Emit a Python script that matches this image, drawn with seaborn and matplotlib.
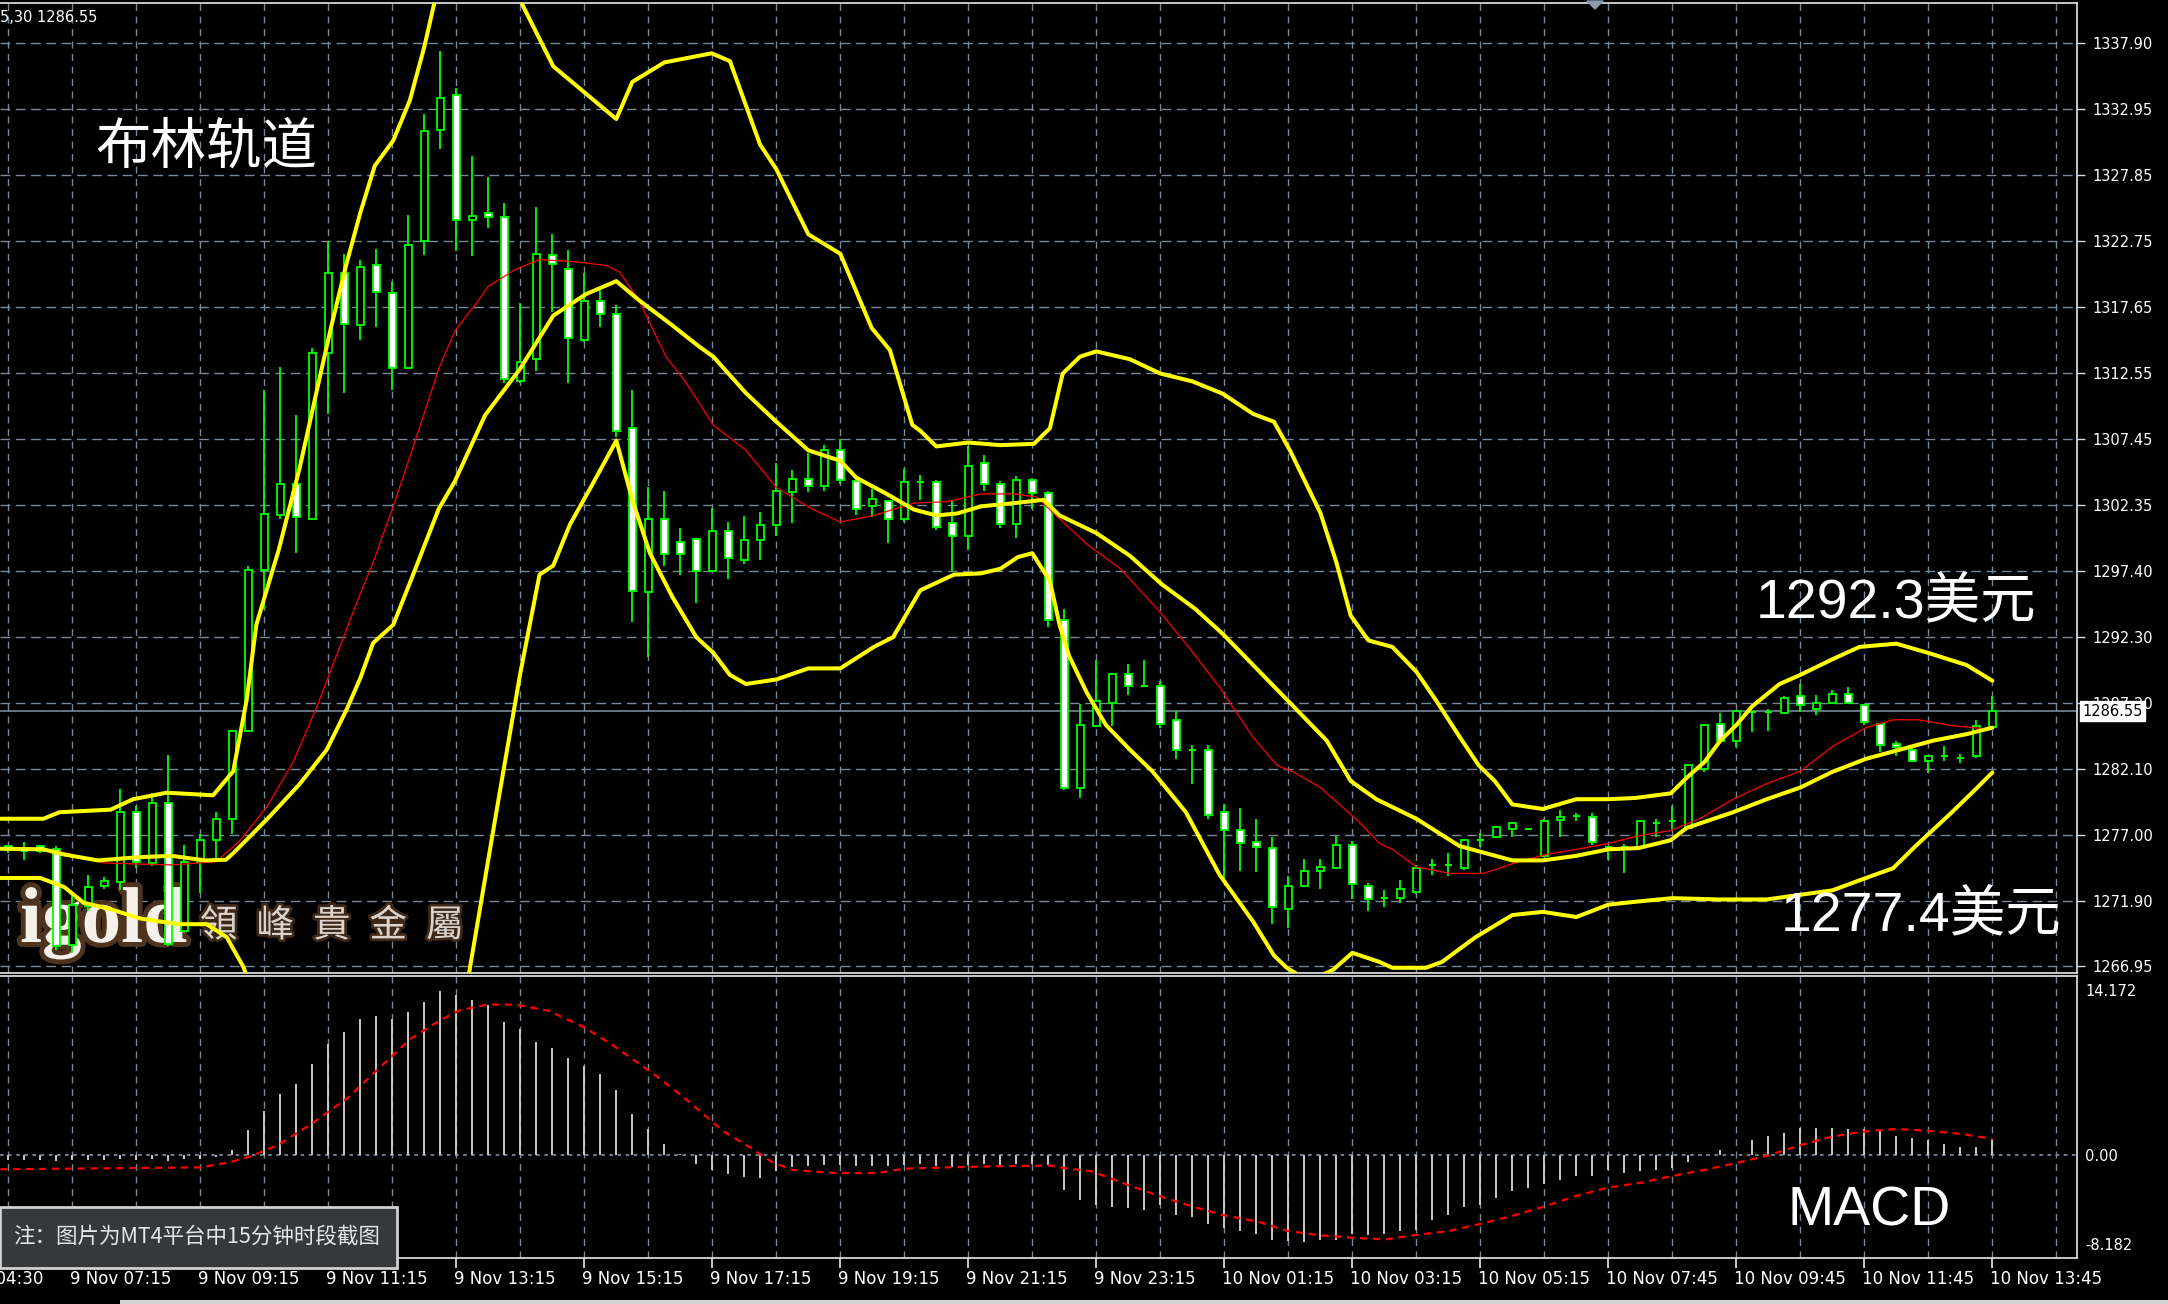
import numpy as np
import pandas as pd
import matplotlib
matplotlib.use("Agg")
import matplotlib.pyplot as plt
import seaborn as sns
from matplotlib.patches import Rectangle, Polygon
import matplotlib.patheffects as pe

# ---------------- data ----------------
opens = [1276.2,1275.8,1276.2,1276.0,1268.6,1271.6,1273.1,1273.45,1278.8,1274.9,
1279.5,1269.7,1275.0,1276.65,1278.3,1285.05,1297.4,1301.6,1304.0,1301.35,
1314.1,1320.2,1316.2,1320.8,1318.7,1312.95,1322.7,1331.2,1333.9,1324.3,
1324.8,1324.5,1311.9,1313.6,1321.6,1320.5,1315.1,1318.1,1317.05,1308.3,
1295.7,1301.35,1299.55,1299.8,1297.3,1300.4,1298.15,1299.7,1300.9,1303.4,
1304.4,1303.85,1306.6,1304.25,1302.3,1302.7,1301.35,1304.2,1304.2,1301.0,
1300.0,1305.6,1304.0,1300.95,1304.3,1303.3,1293.55,1280.65,1285.4,1287.2,
1289.4,1288.5,1288.5,1285.85,1283.6,1283.6,1278.8,1277.4,1276.5,1276.05,
1271.4,1273.1,1274.3,1274.5,1276.3,1273.15,1272.2,1272.2,1272.7,1274.75,
1274.75,1274.5,1276.65,1276.9,1277.5,1277.5,1275.45,1278.2,1278.5,1278.45,
1276.1,1276.1,1276.1,1277.95,1278.1,1277.6,1282.1,1285.6,1284.3,1286.5,
1286.5,1286.45,1287.7,1286.7,1287.2,1287.9,1287.05,1285.6,1284.05,1283.6,
1282.75,1283.1,1282.95,1283.1,1285.35]

highs = [1276.3,1276.5,1276.3,1276.2,1272.5,1274.0,1273.8,1280.6,1279.3,1280.3,
1283.2,1276.3,1277.1,1278.8,1285.1,1297.75,1311.2,1313.0,1309.3,1314.5,
1322.7,1321.7,1321.2,1322.1,1319.5,1324.7,1332.4,1337.3,1334.45,1329.2,
1327.6,1325.6,1317.9,1325.3,1323.2,1322.0,1320.2,1319.0,1317.8,1311.2,
1303.75,1303.5,1300.6,1299.8,1302.2,1301.1,1301.55,1301.85,1305.65,1305.1,
1306.4,1307.0,1307.45,1304.4,1303.6,1302.7,1305.15,1304.7,1304.35,1302.8,
1306.9,1306.25,1304.25,1304.6,1304.45,1303.5,1294.4,1287.1,1290.5,1289.4,
1290.2,1290.5,1288.9,1286.6,1284.0,1284.0,1279.4,1279.1,1278.3,1276.9,
1273.9,1275.2,1275.2,1277.0,1276.6,1273.4,1272.8,1273.6,1274.75,1275.2,
1275.7,1276.65,1277.2,1277.7,1278.0,1277.5,1278.3,1279.0,1278.75,1278.75,
1276.1,1276.35,1278.1,1278.3,1279.3,1282.4,1285.5,1286.45,1286.6,1286.5,
1286.75,1287.75,1288.65,1287.8,1288.2,1288.4,1287.05,1285.6,1284.3,1283.85,
1283.1,1283.85,1283.3,1285.9,1287.7]

lows = [1275.7,1275.1,1275.7,1268.2,1268.0,1271.2,1272.9,1272.8,1274.5,1274.7,
1268.5,1269.5,1272.6,1275.2,1277.1,1285.0,1294.4,1301.35,1298.7,1301.35,
1309.4,1311.0,1315.1,1316.1,1311.2,1312.9,1321.6,1329.75,1321.9,1321.5,
1323.65,1311.8,1311.8,1312.7,1317.2,1311.8,1314.9,1316.1,1307.6,1293.45,
1290.7,1297.75,1297.05,1294.9,1297.3,1296.7,1297.85,1298.15,1300.0,1301.05,
1303.4,1303.5,1304.0,1301.6,1301.45,1299.5,1301.1,1302.8,1300.45,1297.35,
1298.95,1303.5,1300.6,1299.9,1302.1,1293.0,1280.5,1279.9,1285.4,1285.4,
1287.8,1288.5,1285.3,1282.9,1281.0,1278.3,1273.4,1274.3,1274.2,1270.2,
1269.9,1273.1,1272.9,1274.5,1272.1,1271.25,1271.5,1271.85,1272.5,1274.0,
1273.9,1274.4,1276.1,1276.9,1276.9,1277.5,1275.35,1276.9,1278.1,1276.3,
1275.1,1274.15,1275.95,1276.9,1277.4,1277.6,1281.9,1284.1,1283.8,1284.95,
1285.05,1286.45,1286.5,1286.25,1287.1,1287.1,1285.5,1283.4,1283.1,1282.65,
1281.8,1282.75,1282.6,1283.0,1285.35]

closes = [1275.9,1275.8,1275.8,1268.5,1271.7,1273.05,1273.5,1278.8,1275.0,1279.5,
1268.7,1275.0,1276.65,1278.3,1285.05,1297.4,1301.7,1304.0,1301.45,1314.1,
1320.2,1316.3,1320.7,1318.75,1312.9,1322.35,1331.1,1333.7,1324.3,1324.6,
1324.5,1312.1,1313.4,1321.7,1320.9,1315.2,1318.1,1317.1,1308.1,1295.8,
1301.35,1298.6,1298.6,1297.3,1300.4,1298.3,1299.7,1300.9,1303.5,1304.4,
1303.85,1306.6,1304.3,1302.1,1302.85,1301.35,1304.2,1304.2,1300.7,1300.0,
1305.4,1304.0,1300.95,1304.3,1303.3,1293.55,1280.65,1285.5,1287.35,1289.4,
1288.5,1288.5,1285.6,1283.6,1283.6,1278.55,1277.4,1276.4,1276.1,1271.5,
1273.15,1274.25,1274.6,1276.3,1273.3,1272.1,1272.2,1272.9,1274.5,1274.75,
1274.75,1276.65,1276.65,1277.7,1278.0,1277.5,1278.1,1278.4,1278.5,1276.5,
1276.1,1276.1,1278.1,1277.95,1278.1,1282.4,1285.5,1284.3,1286.6,1286.5,
1286.5,1287.6,1287.0,1287.2,1287.9,1287.2,1285.75,1283.95,1283.8,1282.75,
1283.1,1283.1,1282.95,1285.4,1286.55]

# Bollinger upper band (bar index, price)
ub_x = [-0.5,2.2,3.2,6.4,7.8,9.9,12.8,14.06,14.9,15.5,16.9,18.2,19.5,20.2,21.15,22.0,22.9,24.06,25.1,26.0,
        26.67,28.0,29.5,31.0,31.98,34.06,38.0,39.0,41.0,43.96,45.1,46.98,48.0,50.0,52.0,53.96,55.1,56.5,57.0,58.0,
        60.0,62.0,64.1,65.1,65.9,66.98,68.0,70.1,72.0,74.0,75.9,77.8,79.1,80.1,82.0,83.0,83.9,85.0,86.5,88.0,
        89.2,90.7,91.9,92.9,94.0,95.9,98.0,100.0,101.7,103.9,104.9,106.0,107.0,108.0,109.0,110.7,112.0,114.0,115.7,118.0,
        120.1,122.4,124.0]
ub_y = [1278.3,1278.3,1278.8,1279.0,1279.8,1280.3,1280.1,1281.95,1287.45,1293.2,1298.95,1305.2,1312.4,1316.2,1321.0,1324.85,1328.45,1330.4,1333.5,1337.6,
        1341.2,1345.0,1346.5,1344.5,1341.2,1336.1,1332.05,1334.9,1336.4,1337.1,1336.5,1330.1,1328.2,1323.2,1321.7,1316.0,1314.3,1308.55,1308.1,1306.9,
        1307.2,1307.0,1307.1,1308.3,1312.5,1313.8,1314.2,1313.6,1312.5,1311.9,1310.95,1309.4,1308.8,1306.6,1301.8,1298.0,1293.9,1292.0,1291.5,1289.6,
        1287.45,1284.6,1282.4,1281.2,1279.4,1279.05,1279.8,1279.8,1279.9,1280.25,1281.45,1282.65,1284.3,1285.5,1286.95,1288.65,1289.35,1290.55,1291.5,1291.75,
        1291.0,1290.1,1288.9]

# Bollinger middle band
mb_x = [-0.5,2.2,3.5,5.6,8.2,10.2,12.3,13.6,14.1,16.2,18.2,19.9,21.15,22.0,22.8,24.06,25.3,26.9,27.9,29.8,
        31.98,34.06,36.1,38.0,39.4,41.5,43.2,44.06,46.1,48.0,50.0,52.0,53.0,54.9,56.6,58.0,59.3,60.8,62.9,64.7,
        65.7,68.0,70.1,72.1,74.2,75.9,78.4,80.5,82.4,83.9,85.5,88.0,90.7,92.2,94.0,95.9,98.0,100.0,101.9,103.9,
        104.9,107.8,109.9,112.0,114.0,116.1,118.2,120.3,122.4,124.0]
mb_y = [1276.0,1275.95,1275.55,1275.1,1275.35,1275.45,1275.1,1275.15,1275.7,1278.3,1280.95,1283.6,1286.7,1289.1,1291.8,1293.2,1297.05,1302.1,1304.2,1309.3,
        1312.85,1316.95,1318.6,1319.6,1318.15,1316.2,1314.55,1313.8,1311.0,1308.8,1306.6,1305.8,1304.5,1303.25,1302.05,1301.6,1301.75,1302.3,1302.55,1302.8,
        1301.6,1300.25,1298.5,1296.3,1294.4,1292.5,1289.35,1286.7,1284.3,1281.2,1279.8,1278.3,1276.2,1275.7,1275.1,1275.1,1275.45,1275.95,1276.05,1276.65,
        1277.6,1278.8,1279.8,1280.7,1281.9,1282.9,1283.6,1284.3,1284.8,1285.3]

# Bollinger lower band
lb_x = [-0.5,2.0,3.5,4.7,6.4,8.2,9.5,10.7,12.4,13.65,14.7,16.0,18.0,20.0,22.0,24.0,26.0,27.5,28.86,30.5,
        31.98,33.2,34.06,35.1,36.4,38.0,39.0,40.1,41.5,43.0,44.06,45.1,46.1,48.0,50.0,52.0,54.1,55.3,57.0,59.1,
        60.8,62.0,63.1,64.0,65.1,65.7,66.3,67.4,68.6,70.1,71.5,73.6,75.7,77.8,79.1,79.9,81.3,82.8,84.0,85.7,
        86.5,88.6,89.6,91.7,94.0,95.9,98.0,100.0,101.9,104.0,106.9,109.9,114.0,116.1,117.8,119.2,121.3,122.9,124.0]
lb_y = [1273.75,1273.75,1273.05,1271.85,1271.35,1270.65,1270.4,1270.2,1270.2,1269.2,1266.9,1262.5,1257.0,1253.0,1250.5,1250.0,1252.0,1257.0,1266.9,1278.8,
        1289.35,1297.05,1297.75,1300.9,1303.75,1307.35,1302.8,1298.7,1295.35,1292.25,1291.05,1289.35,1288.65,1289.0,1289.85,1289.85,1291.5,1292.25,1295.85,1297.05,
        1297.15,1297.5,1298.4,1298.7,1296.55,1293.2,1290.8,1288.0,1285.5,1283.6,1281.95,1278.8,1274.0,1270.4,1267.8,1266.85,1265.8,1266.7,1268.0,1267.3,
        1266.85,1266.85,1267.3,1269.2,1270.9,1271.15,1270.75,1271.7,1271.95,1272.2,1272.1,1272.1,1272.8,1273.75,1274.5,1276.2,1278.6,1280.5,1281.85]

# thin red moving average
ma_x = [-0.5,2.2,3.5,6.0,10.2,13.0,14.5,16.2,17.8,19.3,20.5,22.0,22.8,24.06,25.5,26.9,27.9,29.4,30.0,31.7,
        33.2,35.3,37.4,38.2,39.4,41.1,42.3,44.06,46.1,48.0,50.3,52.0,54.1,56.6,58.6,60.8,62.9,64.3,65.3,67.4,
        69.5,72.0,73.6,75.7,77.8,79.3,80.3,82.0,84.3,85.7,86.5,88.0,90.1,92.2,94.0,96.1,98.0,100.0,101.9,103.9,
        105.7,107.8,109.9,112.0,114.0,116.1,117.8,119.4,121.5,123.6,124.0]
ma_y = [1276.0,1275.95,1275.7,1274.9,1274.75,1275.0,1276.65,1279.3,1282.65,1286.95,1290.8,1295.6,1298.0,1302.3,1307.6,1312.85,1315.75,1318.15,1319.2,1320.5,
        1321.25,1321.1,1320.8,1320.3,1318.15,1313.8,1311.9,1308.55,1306.6,1303.75,1302.05,1301.1,1301.6,1302.55,1302.65,1303.25,1303.25,1303.0,1301.8,1299.4,
        1297.5,1294.15,1291.75,1288.4,1284.55,1282.4,1281.9,1280.7,1278.2,1276.4,1275.95,1274.6,1274.1,1274.1,1274.85,1275.55,1275.95,1276.4,1277.0,1277.4,
        1278.3,1279.8,1281.0,1281.95,1283.85,1285.3,1285.9,1285.9,1285.45,1285.2,1285.3]

# MACD histogram (one value per bar)
macd_hist = [-0.4,-0.4,-0.45,-0.5,-0.45,-0.4,-0.45,-0.35,-0.4,-0.35,-0.5,-0.3,-0.35,-0.2,
             0.4,2.0,3.5,4.85,5.6,7.2,8.8,9.75,10.75,11.0,10.8,11.35,12.15,12.95,12.65,12.3,
             11.9,10.5,9.95,8.95,8.5,7.7,7.0,6.4,5.1,3.25,2.05,0.85,
             0.05,-0.7,-1.2,-1.55,-1.8,-1.85,-1.3,-1.0,-0.9,-0.8,-0.8,-0.9,-0.85,-0.9,-0.8,
             -0.75,-0.9,-0.95,-0.8,-0.75,-0.8,-0.7,-0.75,-0.8,-2.8,
             -3.6,-4.0,-4.1,-4.2,-4.4,-4.0,-4.8,-4.9,-5.5,-5.8,-6.05,-6.3,-6.75,-6.85,-6.9,
             -6.75,-6.75,-6.3,-6.35,-6.25,-6.05,-5.95,-5.2,-4.8,-4.1,-4.0,-3.45,-2.9,-2.65,-2.35,
             -2.0,-1.65,-1.7,-1.2,-1.45,-1.3,-1.2,-1.05,-0.55,-0.05,0.4,0.0,1.2,1.45,1.7,
             2.1,2.1,2.1,2.05,2.05,1.85,1.45,1.3,1.2,0.85,0.65,0.65,1.2]

# MACD signal line
sig_x = [-0.5,12.0,13.8,15.1,16.9,19.0,21.2,23.2,25.1,26.9,28.2,29.9,31.7,33.8,36.0,37.7,40.4,42.5,44.7,46.4,
         47.7,49.0,51.7,54.3,56.0,58.6,62.1,65.1,66.2,67.7,70.0,72.0,74.0,76.0,78.1,80.0,82.1,84.3,86.1,88.0,
         90.0,92.1,94.1,96.0,98.0,100.0,102.1,104.1,106.0,108.0,110.0,112.1,114.0,116.0,118.0,120.0,122.1,124.0]
sig_y = [-1.15,-1.0,-0.6,-0.15,0.8,2.5,4.5,6.9,9.15,10.6,11.45,11.9,11.9,11.4,10.1,8.75,6.35,4.25,1.85,0.55,
         -0.55,-1.2,-1.45,-1.45,-1.1,-1.0,-0.9,-0.85,-1.1,-1.3,-2.4,-3.3,-4.1,-4.8,-5.3,-6.05,-6.4,-6.6,-6.7,-6.35,
         -6.05,-5.45,-4.8,-4.1,-3.25,-2.6,-2.2,-1.65,-1.2,-0.65,-0.05,0.8,1.45,1.85,2.05,1.9,1.65,1.25]

price_labels = ['1337.90','1332.95','1327.85','1322.75','1317.65','1312.55','1307.45','1302.35',
                '1297.40','1292.30','1287.20','1282.10','1277.00','1271.90','1266.95']
time_labels = ['9 Nov 04:30','9 Nov 07:15','9 Nov 09:15','9 Nov 11:15','9 Nov 13:15','9 Nov 15:15',
               '9 Nov 17:15','9 Nov 19:15','9 Nov 21:15','9 Nov 23:15','10 Nov 01:15','10 Nov 03:15',
               '10 Nov 05:15','10 Nov 07:45','10 Nov 09:45','10 Nov 11:45','10 Nov 13:45']
time_pos = [-4,4,12,20,28,36,44,52,60,68,76,84,92,100,108,116,124]
last_price = 1286.55
macd_labels = ['14.172', '0.00', '-8.182']
logo_chars = ['領', '峰', '貴', '金', '屬']

# ---------------- style ----------------
sns.set_theme(style="dark", rc={"axes.facecolor": "black", "figure.facecolor": "black"})
plt.rcParams['font.family'] = ['DejaVu Sans', 'Noto Sans CJK SC']

W, H = 2168, 1304
fig = plt.figure(figsize=(W / 100, H / 100), dpi=100)
fig.patch.set_facecolor('black')


def rect(x0, y0, x1, y1):
    return [x0 / W, 1 - y1 / H, (x1 - x0) / W, (y1 - y0) / H]


def fx(x):
    return x / W


def fy(y):
    return 1 - y / H


ax = fig.add_axes(rect(0, 3, 2077, 973))
axm = fig.add_axes(rect(0, 976, 2077, 1258))
XL = (-0.519, 129.29)
for a in (ax, axm):
    a.set_facecolor('black')
    a.set_xlim(*XL)
    a.grid(False)
    for s in ['top', 'right', 'bottom']:
        a.spines[s].set_color('#e8e8e8')
        a.spines[s].set_linewidth(1.2)
    a.spines['left'].set_visible(False)
ax.set_ylim(1266.45, 1340.965)
axm.set_ylim(-8.182, 14.172)

GRID = '#778899'
LIME = '#00ff00'
gvals = np.linspace(1337.90, 1266.95, len(price_labels))
for v in gvals:
    ax.axhline(v, color=GRID, lw=1.0, ls=(0, (7, 4)), zorder=0)
for xv in range(0, 130, 4):
    ax.axvline(xv, color=GRID, lw=1.0, ls=(0, (5, 4)), zorder=0)
    axm.axvline(xv, color=GRID, lw=1.0, ls=(0, (5, 4)), zorder=0)
axm.axhline(0, color=GRID, lw=1.3, ls=(0, (2, 2.5)), zorder=0)
ax.axhline(last_price, color=GRID, lw=1.2, zorder=1)

# logo (drawn under candles and lines)
glow = [pe.withStroke(linewidth=7, foreground='#4e341f')]
ax.text(fx(20), fy(942), 'igold', transform=fig.transFigure, ha='left', va='baseline',
        color='#f5f0ea', fontsize=57, weight='bold', family=['Liberation Serif', 'DejaVu Serif'],
        path_effects=glow, zorder=1.5)
for k, ch in enumerate(logo_chars):
    ax.text(fx(200 + 56.5 * k), fy(926), ch, transform=fig.transFigure, ha='left', va='center',
            color='#dcd4cc', fontsize=27, weight='medium', family=['Noto Sans CJK TC'],
            path_effects=[pe.withStroke(linewidth=4, foreground='#3e2818')], zorder=1.5)

# candles
bw = 0.46
for i, (o, h, l, c) in enumerate(zip(opens, highs, lows, closes)):
    ax.vlines(i, l, h, color=LIME, lw=1.3, zorder=2)
    if abs(c - o) < 0.08:
        ax.hlines(o, i - bw / 2, i + bw / 2, color=LIME, lw=1.4, zorder=3)
    else:
        ax.add_patch(Rectangle((i - bw / 2, min(o, c)), bw, abs(c - o),
                               facecolor='white' if c < o else 'black',
                               edgecolor=LIME, lw=1.3, zorder=3))

# indicator lines
sns.lineplot(x=ma_x, y=ma_y, ax=ax, color='#ff0000', linewidth=0.9,
             estimator=None, sort=False, legend=False, zorder=4)
for bx, by in [(ub_x, ub_y), (mb_x, mb_y), (lb_x, lb_y)]:
    sns.lineplot(x=bx, y=by, ax=ax, color='#ffff00', linewidth=2.9,
                 estimator=None, sort=False, legend=False, zorder=5)

# MACD
axm.vlines(np.arange(len(macd_hist)), 0, macd_hist, color='#c8c8c8', lw=1.4, zorder=2)
sns.lineplot(x=sig_x, y=sig_y, ax=axm, color='#ff0000', linewidth=1.6,
             estimator=None, sort=False, legend=False, zorder=3)
axm.lines[-1].set_linestyle((0, (3.2, 2.6)))

# axes ticks / labels
ax.set_xticks([])
ax.set_xlabel('')
ax.set_ylabel('')
ax.set_yticks(gvals)
ax.set_yticklabels(price_labels)
ax.yaxis.tick_right()
ax.tick_params(axis='y', right=True, left=False, labelright=True, labelleft=False,
               colors='#d8d8d8', labelcolor='white', length=6, width=1, pad=5, labelsize=10.5)
ax.text(1.0025, last_price, f'{last_price:.2f}', transform=ax.get_yaxis_transform(),
        ha='left', va='center', color='black', fontsize=10.5, clip_on=False, zorder=10,
        bbox=dict(boxstyle='square,pad=0.18', fc='white', ec='white'))

axm.set_yticks([])
axm.set_xlabel('')
axm.set_ylabel('')
axm.set_xticks(time_pos[1:])
axm.set_xticklabels([])
axm.tick_params(axis='x', bottom=True, length=7, width=1.2, colors='#e8e8e8', labelbottom=False)

for j, lab in zip(time_pos, time_labels):
    fig.text(fx(8.3 + 16 * j - 2), fy(1278.5), lab, ha='left', va='center',
             color='white', fontsize=12)

for lab, yp in zip(macd_labels, [992, 1156.7, 1245]):
    fig.text(fx(2085), fy(yp), lab, ha='left', va='center', color='white', fontsize=10.5)

# header text and shift marker
fig.text(fx(0), fy(18), '5,30 1286.55', ha='left', va='center', color='white', fontsize=10.5)
fig.add_artist(Polygon([[fx(1587), fy(1)], [fx(1603), fy(1)], [fx(1595), fy(9)]],
                       closed=True, transform=fig.transFigure, color='#8a9aab'))

# annotations
fig.text(fx(95), fy(148), '布林轨道', ha='left', va='center', color='white',
         fontsize=40, family=['Noto Sans CJK SC'])
fig.text(fx(1756), fy(603), '1292.3美元', ha='left', va='center', color='white',
         fontsize=40, family=['Liberation Sans', 'Noto Sans CJK SC'])
fig.text(fx(1781), fy(916), '1277.4美元', ha='left', va='center', color='white',
         fontsize=40, family=['Liberation Sans', 'Noto Sans CJK SC'])
fig.text(fx(1788), fy(1212), 'MACD', ha='left', va='center', color='white',
         fontsize=40, family=['Liberation Sans'])

# note box
fig.add_artist(Rectangle((0, fy(1268)), 397 / W, 61 / H, transform=fig.transFigure,
                         facecolor='#36393c', edgecolor='#d0d0d0', lw=2, zorder=30))
fig.text(fx(13), fy(1237), '注：图片为MT4平台中15分钟时段截图', ha='left', va='center',
         color='#e6e6e6', fontsize=15.5, family=['Noto Sans CJK SC'], zorder=31)

# bottom light strip
fig.add_artist(Rectangle((fx(120), 0), 1, 4 / H, transform=fig.transFigure,
                         facecolor='#d4d4d4', edgecolor='none', zorder=30))

fig.savefig('out.png', dpi=100, facecolor='black')
